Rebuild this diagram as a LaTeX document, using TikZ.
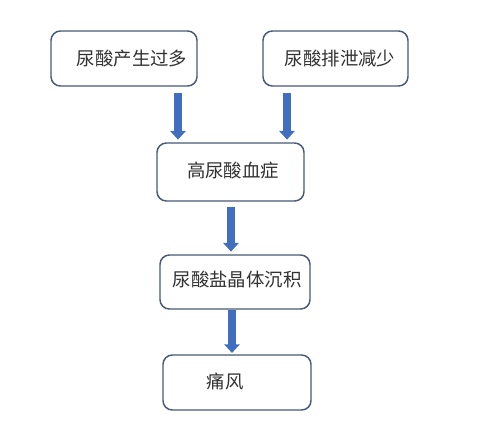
\documentclass[tikz,border=0pt]{standalone}
\usepackage{fontspec}
\setmainfont{Noto Sans CJK SC}
\usetikzlibrary{arrows.meta}
\definecolor{boxline}{RGB}{72,90,118}
\definecolor{arrblue}{RGB}{66,110,192}
\definecolor{txt}{RGB}{50,50,50}
\tikzset{
  box/.style={draw=boxline, line width=1.1pt, rounded corners=7pt, fill=white, inner sep=0pt},
  lbl/.style={text=txt, font=\fontsize{13.8pt}{16pt}\selectfont, inner sep=0pt},
  flow/.style={draw=arrblue, line width=6pt, -{Triangle[length=6.5pt,width=11.5pt]}}
}
\begin{document}
\begin{tikzpicture}[x=0.75pt,y=-0.75pt]
\useasboundingbox (0,0) rectangle (482,447);
\node[box, minimum width=109.5pt, minimum height=41.25pt] (b1) at (124,58.5) {};
\node[box, minimum width=108.75pt, minimum height=41.25pt] (b2) at (335.5,58.5) {};
\node[box, minimum width=110.25pt, minimum height=43.5pt] (b3) at (230.5,172) {};
\node[box, minimum width=112.5pt, minimum height=40.5pt] (b4) at (235,282) {};
\node[box, minimum width=111pt, minimum height=41.25pt] (b5) at (237,382.5) {};
\node[lbl] (t1) at (132,59) {尿酸产生过多};
\node[lbl] (t2) at (340,59) {尿酸排泄减少};
\node[lbl] (t3) at (233,171) {高尿酸血症};
\node[lbl] (t4) at (237,280) {尿酸盐晶体沉积};
\node[lbl] (t5) at (225,381) {痛风};
\coordinate (x1) at (178,0);
\coordinate (x2) at (287,0);
\coordinate (x3) at (231,0);
\coordinate (x4) at (232,0);
\draw[flow] ([yshift=-5pt]b1.south -| x1) -- ([yshift=2pt]b3.north -| x1);
\draw[flow] ([yshift=-5pt]b2.south -| x2) -- ([yshift=2pt]b3.north -| x2);
\draw[flow] ([yshift=-4pt]b3.south -| x3) -- ([yshift=2pt]b4.north -| x3);
\draw[flow] (b4.south -| x4) -- ([yshift=1pt]b5.north -| x4);
\end{tikzpicture}
\end{document}
